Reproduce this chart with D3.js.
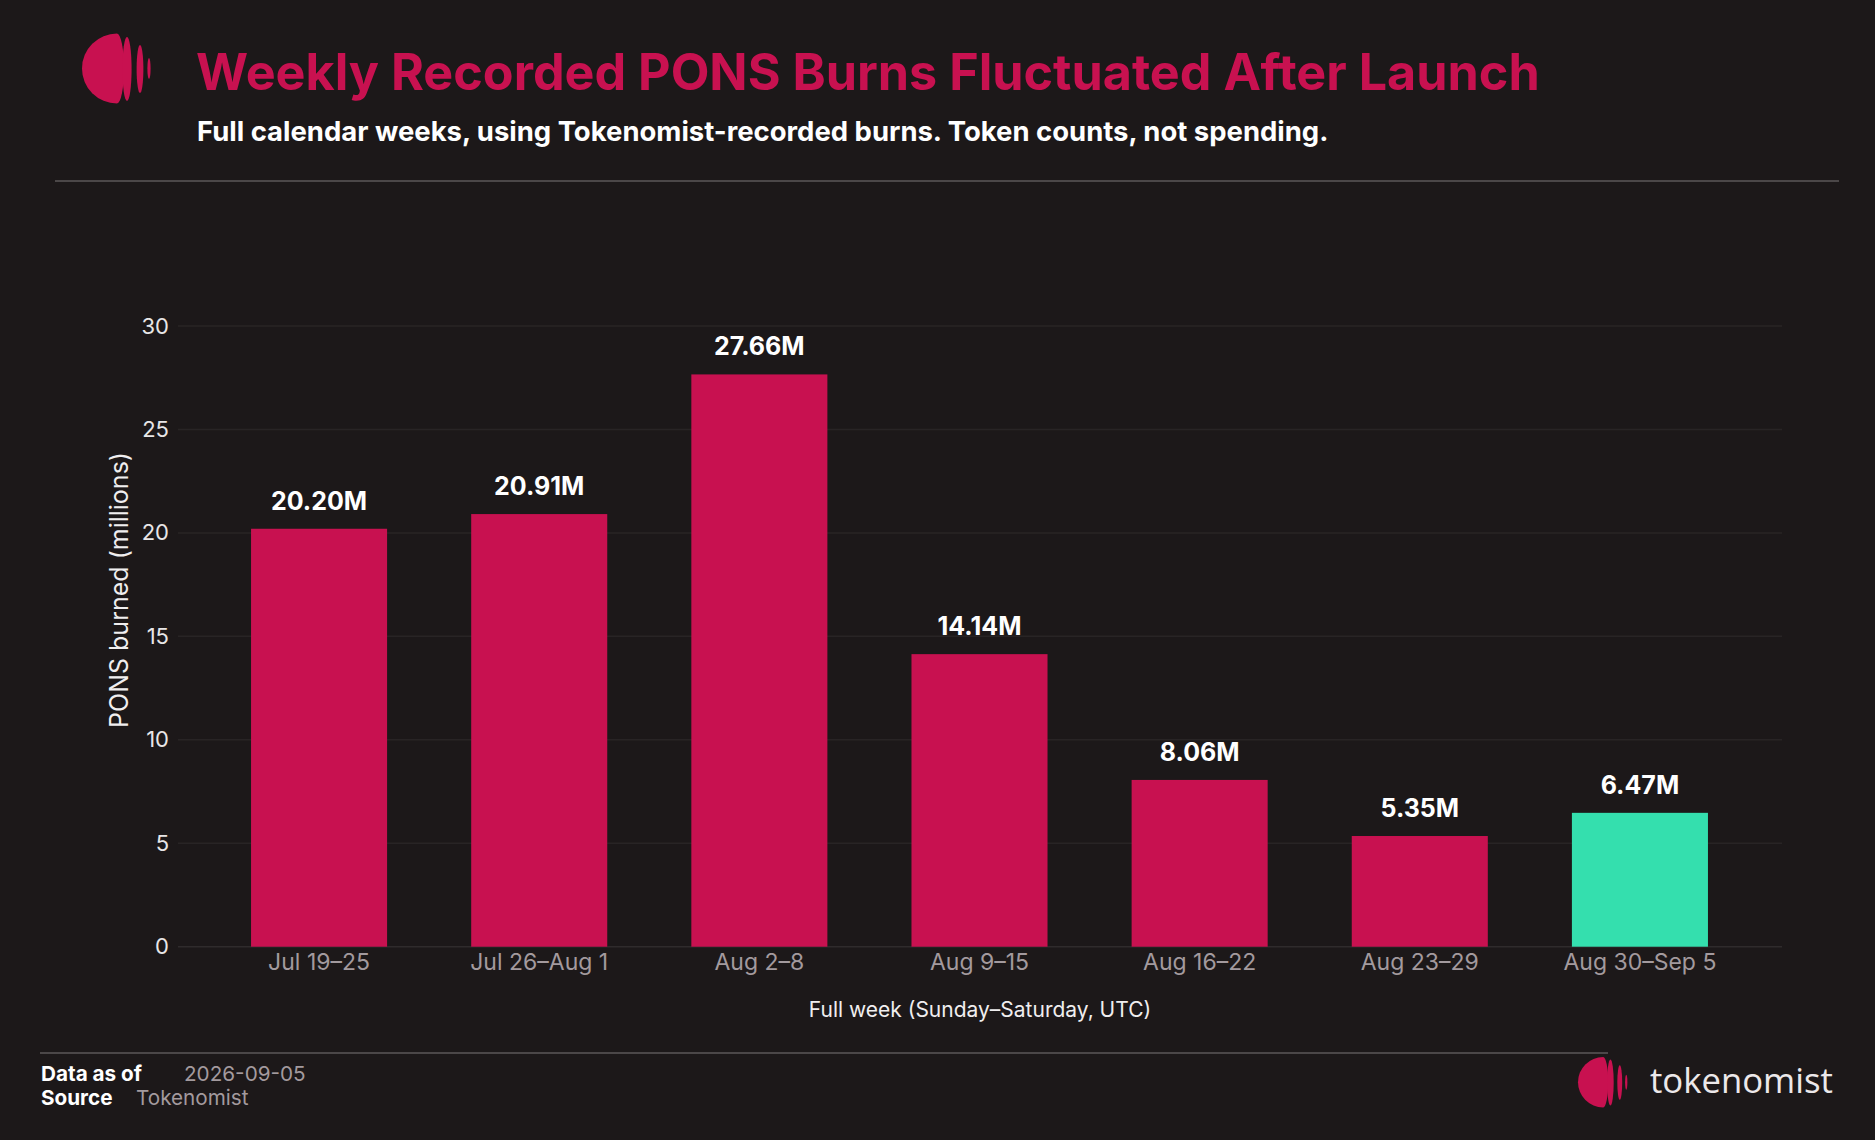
<!DOCTYPE html>
<html>
<head>
<meta charset="utf-8">
<script src="https://cdn.jsdelivr.net/npm/d3@7/dist/d3.min.js"></script>
<style>
  html, body { margin: 0; padding: 0; background: #1c1819; }
  svg { display: block; font-family: Inter, "Noto Sans", sans-serif; }
</style>
</head>
<body>
<svg id="chart" width="1875" height="1140"></svg>
<script>
const categories = ["Jul 19–25", "Jul 26–Aug 1", "Aug 2–8", "Aug 9–15", "Aug 16–22", "Aug 23–29", "Aug 30–Sep 5"];
const values = [20.20, 20.91, 27.66, 14.14, 8.06, 5.35, 6.47];
const valueLabels = ["20.20M", "20.91M", "27.66M", "14.14M", "8.06M", "5.35M", "6.47M"];
const highlight = [false, false, false, false, false, false, true];
const yTicks = [0, 5, 10, 15, 20, 25, 30];

const titleText = "Weekly Recorded PONS Burns Fluctuated After Launch";
const subtitleText = "Full calendar weeks, using Tokenomist-recorded burns. Token counts, not spending.";
const yTitle = "PONS burned (millions)";
const xTitle = "Full week (Sunday–Saturday, UTC)";

const svg = d3.select("#chart");
const W = 1875, H = 1140;
const BG = "#1c1819", RED = "#c81150", TEAL = "#34dfae";

svg.append("rect").attr("width", W).attr("height", H).attr("fill", BG);

// logo helper
function logo(g) {
  g.append("path")
    .attr("d", "M117,33.5 A35,35 0 0 0 117,103.5 A7,35 0 0 0 117,33.5 Z")
    .attr("fill", RED);
  [[127, 69, 4.6, 32], [140, 69, 3.4, 24], [149, 68.5, 1.6, 10.5]].forEach(e => {
    g.append("ellipse").attr("cx", e[0]).attr("cy", e[1]).attr("rx", e[2]).attr("ry", e[3]).attr("fill", RED);
  });
}
logo(svg.append("g"));

function fitText(sel, target) {
  const w = sel.node().getComputedTextLength();
  const fs = parseFloat(sel.attr("font-size"));
  sel.attr("font-size", fs * target / w);
}

const title = svg.append("text").attr("x", 196).attr("y", 90)
  .attr("font-size", 50).attr("font-weight", 700).attr("fill", RED).text(titleText);
fitText(title, 1344);

const sub = svg.append("text").attr("x", 197).attr("y", 141)
  .attr("font-size", 24).attr("font-weight", 700).attr("fill", "#ffffff").text(subtitleText);
fitText(sub, 1132);

svg.append("line").attr("x1", 55).attr("x2", 1839).attr("y1", 181).attr("y2", 181)
  .attr("stroke", "#4b4748").attr("stroke-width", 2);

// scales
const x = d3.scaleBand().domain(categories).range([209, 1750]).paddingInner(0.382).paddingOuter(0.191);
const y = d3.scaleLinear().domain([0, 30]).range([946.7, 326]);
const gridX1 = 178, gridX2 = 1782;

// gridlines
svg.append("g").selectAll("line").data(yTicks).join("line")
  .attr("x1", gridX1).attr("x2", gridX2)
  .attr("y1", d => y(d)).attr("y2", d => y(d))
  .attr("stroke", d => d === 0 ? "#2f2b2c" : "#282425").attr("stroke-width", 1.5);

// y axis labels via d3 axis
const yAxis = svg.append("g").attr("transform", `translate(${gridX1},0)`)
  .call(d3.axisLeft(y).tickValues(yTicks).tickSize(0).tickPadding(9));
yAxis.select(".domain").remove();
yAxis.selectAll("text").attr("font-size", 22).attr("fill", "#e8e6e7").attr("font-family", "Inter");

// x axis labels
const xAxis = svg.append("g").attr("transform", `translate(0,${y(0)})`)
  .call(d3.axisBottom(x).tickSize(0).tickPadding(7));
xAxis.select(".domain").remove();
xAxis.selectAll("text").attr("font-size", 23).attr("fill", "#a39a9e").attr("font-family", "Inter");

// bars
svg.append("g").selectAll("rect").data(values).join("rect")
  .attr("x", (d, i) => x(categories[i]))
  .attr("width", x.bandwidth())
  .attr("y", d => y(d))
  .attr("height", d => y(0) - y(d))
  .attr("fill", (d, i) => highlight[i] ? TEAL : RED);

// value labels
svg.append("g").selectAll("text").data(values).join("text")
  .attr("x", (d, i) => x(categories[i]) + x.bandwidth() / 2)
  .attr("y", d => y(d) - 19)
  .attr("text-anchor", "middle")
  .attr("font-size", 25).attr("font-weight", 700).attr("fill", "#ffffff")
  .text((d, i) => valueLabels[i]);

// axis titles
svg.append("text").attr("transform", "translate(128,590) rotate(-90)")
  .attr("text-anchor", "middle").attr("font-size", 25).attr("fill", "#f0eeef").text(yTitle);
svg.append("text").attr("x", 980).attr("y", 1017).attr("text-anchor", "middle")
  .attr("font-size", 21).attr("fill", "#f0eeef").text(xTitle);

// footer
svg.append("line").attr("x1", 40).attr("x2", 1608).attr("y1", 1053).attr("y2", 1053)
  .attr("stroke", "#4b4748").attr("stroke-width", 2);
svg.append("text").attr("x", 41).attr("y", 1081).attr("font-size", 20.7).attr("font-weight", 700).attr("fill", "#fff").text("Data as of");
svg.append("text").attr("x", 184).attr("y", 1081).attr("font-size", 20.7).attr("fill", "#a39a9e").text("2026-09-05");
svg.append("text").attr("x", 41).attr("y", 1105).attr("font-size", 20.7).attr("font-weight", 700).attr("fill", "#fff").text("Source");
svg.append("text").attr("x", 136).attr("y", 1105).attr("font-size", 20.7).attr("fill", "#a39a9e").text("Tokenomist");

const fl = svg.append("g").attr("transform", "translate(1578,1057) scale(0.72) translate(-82,-33.5)");
logo(fl);
const brand = svg.append("text").attr("x", 1650).attr("y", 1093).attr("font-size", 36)
  .attr("font-family", "'Open Sans', sans-serif").attr("font-weight", 400).attr("fill", "#ece8ea").text("tokenomist");
fitText(brand, 183);
</script>
</body>
</html>
